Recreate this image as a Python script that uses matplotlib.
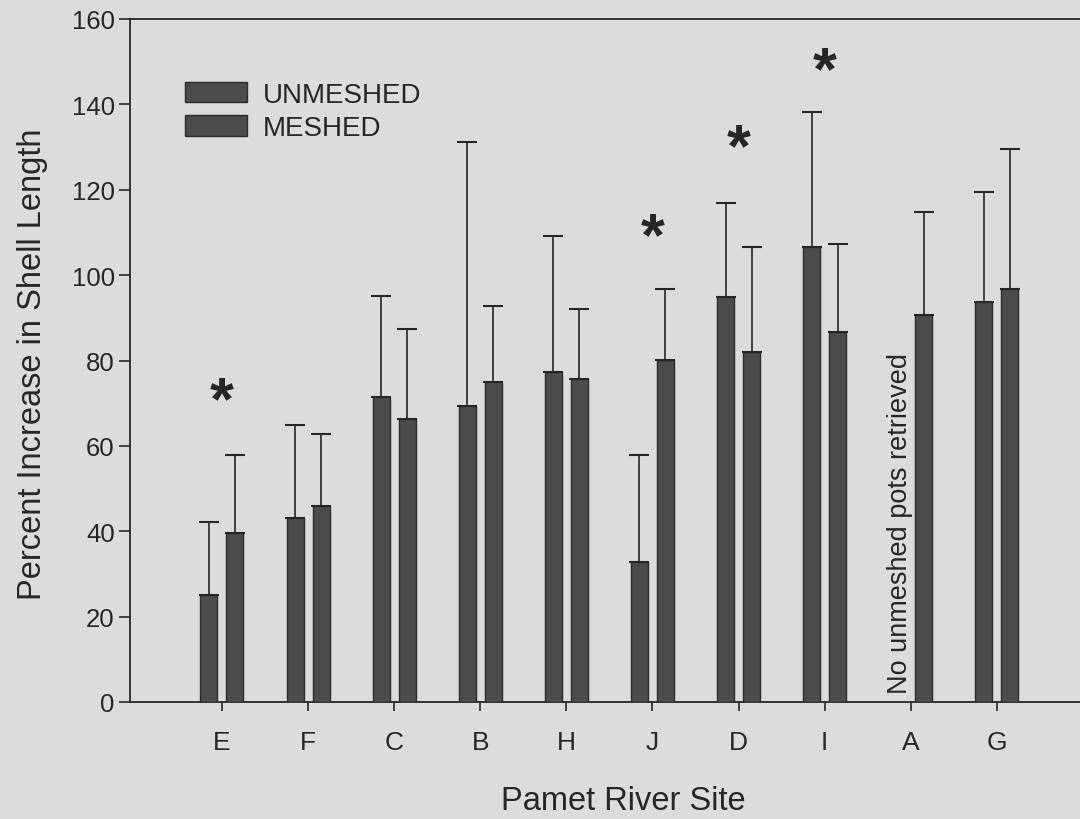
import numpy as np
import matplotlib
matplotlib.use("Agg")
import matplotlib.pyplot as plt

plt.rcParams['font.family'] = ['Liberation Sans', 'DejaVu Sans']

# -------------------- Data --------------------
sites = ['E', 'F', 'C', 'B', 'H', 'J', 'D', 'I', 'A', 'G']
unmeshed = [25.1, 43.1, 71.4, 69.3, 77.3, 32.8, 94.9, 106.6, np.nan, 93.7]
unmeshed_top = [42.2, 64.9, 95.1, 131.1, 109.1, 57.8, 116.9, 138.2, np.nan, 119.4]
meshed = [39.6, 45.9, 66.2, 74.9, 75.6, 80.1, 82.0, 86.6, 90.6, 96.7]
meshed_top = [57.9, 62.8, 87.4, 92.7, 92.0, 96.7, 106.6, 107.3, 114.8, 129.5]

# significant differences (site, height of the star)
star_sites = ['E', 'J', 'D', 'I']
star_y = [70, 108.5, 129.5, 147.5]

# -------------------- Style --------------------
bg = '#dcdcdc'
bar_color = '#4c4c4c'
edge_color = '#2b2b2b'
ink = '#262626'
bar_w = 0.197
offset = 0.151

fig = plt.figure(figsize=(10.8, 8.2), dpi=100, facecolor=bg)
ax = fig.add_axes([130/1080, 1 - 703/820, 950/1080, 683/820], facecolor=bg)

x = np.arange(len(sites))
um = np.array(unmeshed)
me = np.array(meshed)
um_err = np.array(unmeshed_top) - um
me_err = np.array(meshed_top) - me

err_kw = dict(ecolor=ink, elinewidth=1.2, capsize=7.2, capthick=1.5)

ax.bar(x - offset, um, bar_w, color=bar_color, edgecolor=edge_color, linewidth=1.0,
       yerr=[np.zeros_like(um), um_err], error_kw=err_kw, label='UNMESHED', zorder=3)
ax.bar(x + offset, me, bar_w, color=bar_color, edgecolor=edge_color, linewidth=1.0,
       yerr=[np.zeros_like(me), me_err], error_kw=err_kw, label='MESHED', zorder=3)

# asterisks
for s, y in zip(star_sites, star_y):
    ax.text(sites.index(s), y, '*', ha='center', va='center', fontsize=44,
            fontweight='bold', color=ink)

# note for site A
ax.text(sites.index('A') - offset + 0.03, 2, 'No unmeshed pots retrieved', rotation=90,
        ha='center', va='bottom', fontsize=19.5, color=ink)

ax.set_xlim(-1.068, 9.965)
ax.set_ylim(0, 160)
ax.set_yticks(np.arange(0, 161, 20))
ax.set_xticks(x)
ax.set_xticklabels(sites)

ax.tick_params(axis='y', direction='out', length=8, width=1.2, pad=3,
               labelsize=18.5, colors=ink)
ax.tick_params(axis='x', direction='out', length=6.5, width=1.2, pad=14,
               labelsize=19, colors=ink)

for side in ['left', 'top', 'bottom']:
    ax.spines[side].set_color(ink)
    ax.spines[side].set_linewidth(1.3)
ax.spines['right'].set_visible(False)

ax.set_xlabel('Pamet River Site', fontsize=23.5, color=ink)
ax.set_ylabel('Percent Increase in Shell Length', fontsize=23.5, color=ink)
ax.xaxis.set_label_coords((623 - 130) / 950, -0.121)
ax.yaxis.set_label_coords(-0.086, 0.496)

ax.legend(loc='upper left', bbox_to_anchor=(185/1080, 1 - 83/820),
          bbox_transform=fig.transFigure, frameon=False, fontsize=20,
          handlelength=2.23, handleheight=0.75, handletextpad=0.58,
          labelspacing=0.26, borderpad=0, borderaxespad=0,
          labelcolor=ink)

fig.savefig('out.png', dpi=100, facecolor=bg)
